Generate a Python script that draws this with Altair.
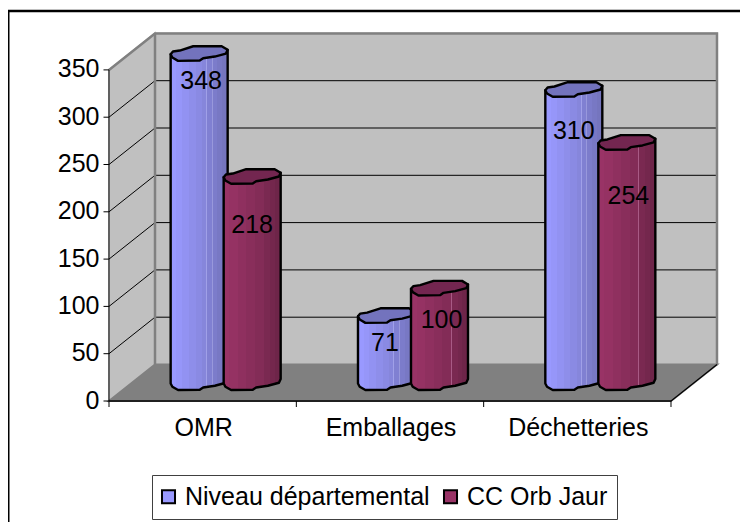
import altair as alt
import pandas as pd

# ---- data
categories = ["OMR", "Emballages", "Déchetteries"]
series_names = ["Niveau départemental", "CC Orb Jaur"]
niveau = [348, 71, 310]
cc_orb = [218, 100, 254]
# where each value label sits on the value axis (estimated)
niveau_label_at = [338, 61, 285]
cc_orb_label_at = [186, 86, 217]
y_ticks = [0, 50, 100, 150, 200, 250, 300, 350]

# ---- scale geometry
W, H = 732, 514
X0, Y0 = 109.0, 401.0      # page position of origin
PX_X, PX_Y = 187.33, 0.946 # page pixels per category / per value unit
DX, DY = 46 / PX_X, 36.5 / PX_Y   # depth of the 3-D box in data units
YMAX = 350
FS = 25
xscale = alt.Scale(domain=[(8 - X0) / PX_X, (8 + W - X0) / PX_X], nice=False, zero=False)
yscale = alt.Scale(domain=[(Y0 - 8 - H) / PX_Y, (Y0 - 8) / PX_Y], nice=False, zero=False)
X = lambda f="x": alt.X(f"{f}:Q", scale=xscale, axis=None)
Y = lambda f="y": alt.Y(f"{f}:Q", scale=yscale, axis=None)
px = lambda p: (p - X0) / PX_X          # page x -> data
py = lambda p: (Y0 - p) / PX_Y          # page y -> data


def poly(points, **mark):
    df = pd.DataFrame({"x": [p[0] for p in points], "y": [p[1] for p in points], "i": range(len(points))})
    return alt.Chart(df).mark_line(**mark).encode(x=X(), y=Y(), order=alt.Order("i:Q"))


def seg(x1, y1, x2, y2, color="black", width=1.0):
    return poly([(x1, y1), (x2, y2)], stroke=color, strokeWidth=width)


def text(xs, ys, labels, **mark):
    df = pd.DataFrame({"x": xs, "y": ys, "t": labels})
    return alt.Chart(df).mark_text(font="Liberation Sans", fontSize=FS, color="black",
                                   baseline="middle", **mark).encode(x=X(), y=Y(), text="t:N")


# cylinder outline (fraction of half width, page px from centre)
outline = [(-1.0, 0.7), (-0.92, -2), (-0.68, -3), (-0.21, -7.3), (0.79, -7.3), (1.0, -3.7),
           (0.94, 0), (0.55, 3), (0.14, 4.7), (0.02, 7), (-0.74, 7.3), (-0.94, 4)]
front = [(0.94, 0), (0.55, 3), (0.14, 4.7), (0.02, 7), (-0.74, 7.3), (-0.94, 4)]
HALF_W = 28.5 / PX_X


def grad(bands):
    stops = []
    for k, (end, col) in enumerate(bands):
        start = bands[k - 1][0] if k else 0
        stops += [{"offset": start, "color": col}, {"offset": end, "color": col}]
    return {"gradient": "linear", "x1": 0, "x2": 1, "y1": 0, "y2": 0, "stops": stops}


blue_bands = [(0.10, "#9999FF"), (0.20, "#9696F9"), (0.32, "#9292F2"), (0.44, "#8E8EEA"), (0.55, "#8A8AE3"),
              (0.62, "#8686DB"), (0.635, "#A0A0E8"), (0.72, "#8080D2"), (0.735, "#9898DC"), (0.82, "#7C7CCB"),
              (0.90, "#7878C4"), (1.0, "#7575BE")]
red_bands = [(0.10, "#993366"), (0.25, "#953263"), (0.40, "#8F305F"), (0.55, "#892E5B"), (0.70, "#832C57"),
             (0.715, "#A85A85"), (0.82, "#7A2951"), (0.90, "#74274D"), (1.0, "#6E2549")]


def cylinder(cx, value, bands, top):
    ytop = value + DY / 2
    ybase = DY / 2
    body = [(cx - HALF_W, ytop - 0.7 / PX_Y), (cx - HALF_W, ybase - 0.7 / PX_Y)]
    body += [(cx + a * HALF_W, ybase - b / PX_Y) for a, b in reversed(front)]
    body += [(cx + HALF_W, ybase + 3.7 / PX_Y), (cx + HALF_W, ytop + 3.7 / PX_Y)]
    cap = [(cx + a * HALF_W, ytop - b / PX_Y) for a, b in outline]
    return [
        poly(body, interpolate="linear-closed", stroke="black", strokeWidth=2.4, fill=grad(bands), strokeJoin="round"),
        poly(cap, interpolate="linear-closed", stroke="black", strokeWidth=2.4, fill=top, strokeJoin="round"),
    ]


layers = []

# legend source, hidden behind the walls
legend_df = pd.DataFrame({"x": [1.5, 1.5], "y": [150, 150], "s": series_names})
layers.append(
    alt.Chart(legend_df).mark_point(filled=True, shape="square").encode(
        x=X(), y=Y(),
        color=alt.Color("s:N", sort=series_names,
                        scale=alt.Scale(domain=series_names, range=["#9999FF", "#993366"]),
                        legend=alt.Legend(orient="none", legendX=144, legendY=467, direction="horizontal",
                                          title=None, fillColor="white", strokeColor="#404040",
                                          padding=9, labelFont="Liberation Sans", labelFontSize=FS,
                                          labelColor="black", symbolType="square", symbolSize=170,
                                          symbolStrokeColor="black", symbolStrokeWidth=2, symbolOpacity=1,
                                          symbolOffset=-5, labelOffset=4, columnPadding=9, labelLimit=400)))
)

# walls and floor
back = [(DX, DY), (3 + DX, DY), (3 + DX, YMAX + DY), (DX, YMAX + DY)]
side = [(0, 0), (DX, DY), (DX, YMAX + DY), (0, YMAX)]
floor = [(0, 0), (3, 0), (3 + DX, DY), (DX, DY)]
layers.append(poly(back, interpolate="linear-closed", fill="#C0C0C0", stroke="#C0C0C0"))
layers.append(poly(side, interpolate="linear-closed", fill="#C0C0C0", stroke="#C0C0C0"))
layers.append(poly(floor, interpolate="linear-closed", fill="#808080", stroke="#808080"))

# gridlines
for v in y_ticks[1:-1]:
    layers.append(seg(DX, v + DY, 3 + DX, v + DY))
    layers.append(seg(0, v, DX, v + DY))

# wall borders
layers.append(poly([(0, YMAX), (DX, YMAX + DY), (3 + DX, YMAX + DY), (3 + DX, DY)], stroke="#808080", strokeWidth=2.5))
layers.append(seg(DX, DY, DX, YMAX + DY, "#808080", 2.5))

# axes
layers.append(seg(0, 0, 0, YMAX))
layers.append(seg(0, 0, 3, 0, "black", 1.5))
layers.append(seg(3, 0, 3 + DX, DY, "black", 1.2))
for v in y_ticks:
    layers.append(seg(px(103.5), v, 0, v))
for c in range(4):
    layers.append(seg(c, 0, c, py(407)))
layers.append(text([px(99.5)] * len(y_ticks), [t + 0.5 for t in y_ticks], [str(t) for t in y_ticks], align="right"))
layers.append(text([c + 0.5 + 1 / PX_X for c in range(3)], [py(428)] * 3, categories, align="center"))

# cylinders
off = 0.1415
depth_x = DX / 2
for c in range(3):
    cx = c + 0.5 + depth_x
    layers += cylinder(cx - off, niveau[c], blue_bands, "#7373BD")
    layers += cylinder(cx + off, cc_orb[c], red_bands, "#732650")

# value labels
nudge = [2 / PX_X, -1.5 / PX_X, 0, 0, 2 / PX_X, 1.5 / PX_X]
xs = [c + 0.5 + depth_x - off for c in range(3)] + [c + 0.5 + depth_x + off for c in range(3)]
xs = [a + b for a, b in zip(xs, nudge)]
layers.append(text(xs, niveau_label_at + cc_orb_label_at, [str(v) for v in niveau + cc_orb], align="center"))

# outer frame: runs off the right and bottom of the picture
layers.append(seg(px(8), py(8 + H), px(8), py(11), "black", 3))
layers.append(seg(px(8), py(11), px(8 + W), py(11), "black", 2.5))

chart = alt.layer(*layers).resolve_scale(x="shared", y="shared").properties(
    width=W, height=H, padding=0, autosize=alt.AutoSizeParams(type="none"),
    background="white",
).configure_view(stroke=None)

chart.save("out.html", embed_options={"renderer": "svg", "actions": False})
